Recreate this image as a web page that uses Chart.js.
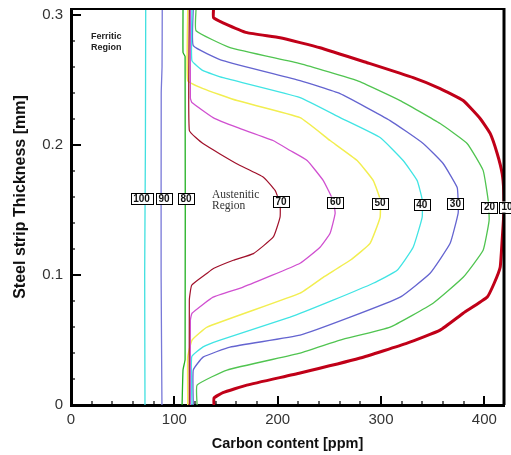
<!DOCTYPE html>
<html>
<head>
<meta charset="utf-8">
<script src="https://cdn.jsdelivr.net/npm/chart.js@4.4.1/dist/chart.umd.min.js"></script>
<style>
  body { margin: 0; background: #fff; }
  #wrap { width: 511px; height: 455px; }
</style>
</head>
<body>
<div id="wrap"><canvas id="myChart" width="511" height="455"></canvas></div>
<script>
// contour levels, each line is a list of [carbon ppm, thickness mm]
const levels = [100, 90, 80, 70, 60, 50, 40, 30, 20, 10];

const contour100 = [[72.3, 0.3045], [72.0, 0.2], [71.3, 0.1], [71.6, 0]];
const contour90 = [[88.3, 0.3045], [88.1, 0.26], [87.3, 0.24], [87.2, 0.1], [88.0, 0]];
const contour80 = [[108.4, 0.3045], [108.4, 0.271], [110.4, 0.268], [110.4, 0.035], [108.4, 0.027], [107.5, 0]];
const contour70 = [[114.5, 0.3045], [114.5, 0.2111], [128.1, 0.2008], [160.4, 0.1855], [186.2, 0.1752],
  [197.5, 0.165], [202.3, 0.1548], [202.3, 0.1445], [195.8, 0.1292], [176.5, 0.1164], [157.1, 0.1113],
  [137.8, 0.1049], [131.4, 0.1011], [116.8, 0.0921], [114.5, 0.0806], [114.5, 0]];
const contour60 = [[115.5, 0.3045], [115.5, 0.236], [117, 0.2326], [137.5, 0.221], [160.7, 0.2134],
  [195.5, 0.2034], [212, 0.1957], [228.5, 0.188], [244, 0.1727], [253.6, 0.1573], [255.6, 0.1474],
  [250.7, 0.132], [241, 0.1213], [221.7, 0.109], [166.5, 0.0906], [137.5, 0.0829], [117.1, 0.0706],
  [115.5, 0.065], [115.5, 0]];
const contour50 = [[113, 0.3045], [113, 0.2494], [127.8, 0.2433], [160.7, 0.2341], [221.7, 0.221],
  [250.7, 0.2034], [276.9, 0.188], [292.4, 0.1727], [299.1, 0.1581], [299.1, 0.1443], [289.4, 0.1243],
  [270.1, 0.1113], [244, 0.0982], [221.7, 0.086], [131.7, 0.0599], [117.1, 0.0499], [113, 0.0368], [113, 0]];
const contour40 = [[117, 0.3045], [117, 0.2648], [127.8, 0.2571], [147.1, 0.2517], [221.7, 0.2364],
  [260.4, 0.221], [299.1, 0.2057], [321.4, 0.188], [334.9, 0.1727], [339.8, 0.1581], [339.8, 0.1443],
  [331.1, 0.1213], [315.6, 0.1036], [292.4, 0.0936], [253.6, 0.0806], [212, 0.0675], [144.2, 0.0499],
  [127.8, 0.0447], [116.8, 0.037], [117, 0]];
const contour30 = [[118.3, 0.3045], [118.3, 0.2763], [147.1, 0.2648], [221.7, 0.2494], [260.4, 0.2394],
  [308.8, 0.2187], [340.8, 0.2011], [360.1, 0.1857], [373.7, 0.1673], [374.6, 0.1573], [374.6, 0.1474],
  [366.9, 0.1243], [347.5, 0.1013], [318.5, 0.0829], [270.1, 0.0675], [221.7, 0.0537], [153.9, 0.0445],
  [127.8, 0.0368], [118.3, 0.0269], [118.3, 0]];
const contour20 = [[121, 0.3045], [121, 0.2878], [153.9, 0.2748], [221.7, 0.2625], [276.9, 0.2494],
  [318.5, 0.2341], [357.2, 0.2164], [383.3, 0.2011], [398.8, 0.1804], [403.7, 0.1573], [404.6, 0.142],
  [398.8, 0.119], [379.5, 0.0982], [350.4, 0.0783], [308.8, 0.0599], [260.4, 0.0499], [221.7, 0.0399],
  [151, 0.0269], [122, 0.0153], [122, 0]];
const contour10 = [[137.9, 0.3045], [137.9, 0.2978], [147.1, 0.2939], [170.4, 0.2863], [202.3, 0.2824],
  [241, 0.2747], [286.5, 0.2632], [331.1, 0.2517], [357.2, 0.2433], [379.5, 0.2341], [395.9, 0.2203],
  [405.6, 0.2088], [412.4, 0.1934], [417.2, 0.1781], [418.7, 0.165], [418.7, 0.1458], [417.2, 0.1266],
  [415.3, 0.1059], [409.5, 0.0936], [402.7, 0.0829], [379.5, 0.0706], [357.2, 0.0576], [325.3, 0.0476],
  [279.8, 0.0361], [221.7, 0.0246], [170.1, 0.0153], [147, 0.0095], [138.4, 0.0054], [138.4, 0]];

const contours = [contour100, contour90, contour80, contour70, contour60,
  contour50, contour40, contour30, contour20, contour10];
const colors = ['#40e0e0', '#7878d8', '#20b020', '#a0102a', '#d050d0',
  '#f2ee50', '#40e4e4', '#6464d0', '#50c450', '#c00018'];
const widths = [1.3, 1.3, 1.3, 1.2, 1.3, 1.5, 1.3, 1.3, 1.3, 3];

// where the level boxes sit
const labelPpm = [68.2, 90, 111.3, 203.3, 256, 299.1, 339.4, 372, 405, 422];
const labelMm = [0.1586, 0.1586, 0.1586, 0.1566, 0.156, 0.1552, 0.154, 0.1548, 0.1522, 0.1522];

Chart.defaults.font.family = '"Liberation Sans", Arial, sans-serif';

const frame = {
  id: 'frame',
  afterDatasetsDraw(chart) {
    const {ctx, chartArea: a, scales: {x, y}} = chart;
    ctx.save();
    ctx.strokeStyle = '#000';
    // top and right border
    ctx.lineWidth = 2;
    ctx.beginPath(); ctx.moveTo(a.left, a.top); ctx.lineTo(a.right, a.top); ctx.stroke();
    ctx.lineWidth = 3;
    ctx.beginPath(); ctx.moveTo(a.right, a.top - 1); ctx.lineTo(a.right, a.bottom); ctx.stroke();
    // inward ticks
    for (let i = 0; i * 20 <= x.max; i++) {
      const px = Math.round(x.getPixelForValue(i * 20));
      const major = i % 5 === 0;
      ctx.lineWidth = major ? 2 : 1.2;
      ctx.beginPath(); ctx.moveTo(px, a.bottom); ctx.lineTo(px, a.bottom - (major ? 9 : 4)); ctx.stroke();
    }
    for (let i = 0; i * 0.02 <= y.max; i++) {
      const py = Math.round(y.getPixelForValue(i * 0.02));
      const major = i % 5 === 0;
      ctx.lineWidth = major ? 2 : 1.2;
      ctx.beginPath(); ctx.moveTo(a.left, py); ctx.lineTo(a.left + (major ? 10 : 4), py); ctx.stroke();
    }
    // level boxes
    ctx.font = 'bold 10px "Liberation Sans", Arial';
    ctx.textAlign = 'center';
    ctx.textBaseline = 'middle';
    levels.forEach((lv, i) => {
      const px = x.getPixelForValue(labelPpm[i]);
      const py = y.getPixelForValue(labelMm[i]);
      const t = String(lv);
      const w = ctx.measureText(t).width + 5;
      ctx.fillStyle = '#fff';
      ctx.fillRect(px - w / 2, py - 5.5, w, 11);
      ctx.lineWidth = 1;
      ctx.strokeRect(Math.round(px - w / 2) + 0.5, Math.round(py - 5.5) + 0.5, Math.round(w), 11);
      ctx.fillStyle = '#111';
      ctx.fillText(t, px, py + 0.5);
    });
    // region notes
    ctx.textAlign = 'left';
    ctx.fillStyle = '#222';
    ctx.font = 'bold 9px "Liberation Sans", Arial';
    ctx.fillText('Ferritic', x.getPixelForValue(19.4), y.getPixelForValue(0.2832));
    ctx.fillText('Region', x.getPixelForValue(19.4), y.getPixelForValue(0.2752));
    ctx.fillStyle = '#333';
    ctx.font = '11.5px "Liberation Serif", "Times New Roman", serif';
    ctx.fillText('Austenitic', x.getPixelForValue(136.5), y.getPixelForValue(0.1612));
    ctx.fillText('Region', x.getPixelForValue(136.5), y.getPixelForValue(0.1527));
    // y axis title, centred a little above the plot middle as in the original
    ctx.save();
    ctx.translate(21, 197);
    ctx.rotate(-Math.PI / 2);
    ctx.textAlign = 'center';
    ctx.fillStyle = '#111';
    ctx.font = 'bold 16px "Liberation Sans", Arial';
    ctx.fillText('Steel strip Thickness [mm]', 0, 0);
    ctx.restore();
    ctx.restore();
  }
};

const config = {
  type: 'scatter',
  data: {
    datasets: contours.map((c, i) => ({
      label: String(levels[i]),
      data: c.map(p => ({x: p[0], y: p[1]})),
      showLine: true,
      borderColor: colors[i],
      borderWidth: widths[i],
      pointRadius: 0,
      tension: 0.12,
      fill: false
    }))
  },
  options: {
    responsive: false,
    animation: false,
    devicePixelRatio: 1,
    layout: { padding: { top: 9, right: 7, left: 0, bottom: 0 } },
    plugins: { legend: { display: false }, tooltip: { enabled: false } },
    scales: {
      x: {
        type: 'linear', min: 0, max: 419,
        ticks: { stepSize: 100, includeBounds: false, padding: 6, color: '#333', font: { size: 15 }, maxRotation: 0,
          callback: v => String(v) },
        grid: { drawOnChartArea: false, drawTicks: false },
        border: { display: true, color: '#000', width: 3 },
        title: { display: true, text: 'Carbon content [ppm]', color: '#111',
          font: { size: 14.5, weight: 'bold' }, padding: { top: 4, bottom: 2 } },
        afterFit: s => { s.height = 50; s.paddingLeft = 0; s.paddingRight = 0; }
      },
      y: {
        type: 'linear', min: 0, max: 0.3045,
        ticks: { stepSize: 0.1, includeBounds: false, padding: 8, color: '#333', font: { size: 15 },
          callback: v => v === 0 ? '0' : v.toFixed(1) },
        grid: { drawOnChartArea: false, drawTicks: false },
        border: { display: true, color: '#000', width: 3 },
        title: { display: false },
        afterFit: s => { s.width = 71; s.paddingTop = 0; s.paddingBottom = 0; }
      }
    }
  },
  plugins: [frame]
};

const myChart = new Chart(document.getElementById('myChart'), config);
</script>
</body>
</html>
